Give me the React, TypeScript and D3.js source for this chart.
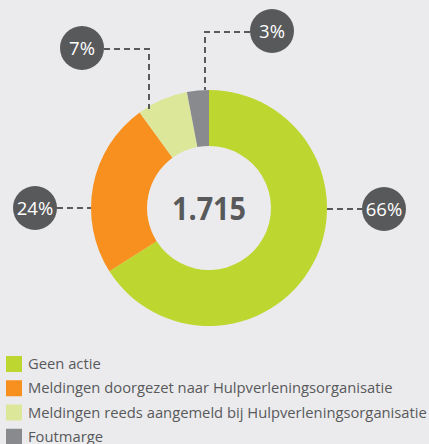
import React from "react";
import * as d3 from "d3";

const categories = [
  "Geen actie",
  "Meldingen doorgezet naar Hulpverleningsorganisatie",
  "Meldingen reeds aangemeld bij Hulpverleningsorganisatie",
  "Foutmarge",
];
const values = [66, 24, 7, 3];
const labels = ["66%", "24%", "7%", "3%"];
const colors = ["#bed730", "#f7901e", "#dde79a", "#898a8e"];
const total = "1.715";

const W = 429;
const H = 444;

export default function App() {
  const cx = 209;
  const cy = 208;
  const outerR = 118;
  const innerR = 62;
  const pie = d3.pie<number>().sort(null).value((d) => d);
  const arcs = pie(values);
  const arcGen = d3.arc<d3.PieArcDatum<number>>().innerRadius(innerR).outerRadius(outerR);

  const callouts = [
    { c: [384, 209], path: [[327, 209], [362, 209]] },
    { c: [35, 208], path: [[57, 208], [91, 208]] },
    { c: [82, 48], path: [[104, 49], [149, 49], [149, 109]] },
    { c: [272, 31], path: [[250, 32], [205, 32], [205, 90]] },
  ];
  const line = d3.line();
  const legendY = d3.scaleBand<number>().domain(d3.range(categories.length)).range([356, 453]);

  return (
    <svg width={W} height={H} style={{ position: "absolute", left: 0, top: 0, background: "#ebebed" }}>
      <rect width={W} height={H} fill="#ebebed" />
      <g transform={`translate(${cx},${cy})`}>
        {arcs.map((a, i) => (
          <path key={i} d={arcGen(a) || ""} fill={colors[i]} />
        ))}
      </g>
      <text
        x={cx}
        y={cy + 12}
        textAnchor="middle"
        fontFamily="'Open Sans', sans-serif"
        fontWeight={700}
        fontSize={33}
        fill="#58595b"
        textLength={74}
        lengthAdjust="spacingAndGlyphs"
      >
        {total}
      </text>
      {callouts.map((c, i) => (
        <g key={i}>
          <path
            d={line(c.path as [number, number][]) || ""}
            fill="none"
            stroke="#58595b"
            strokeWidth={2}
            strokeDasharray="6,4"
          />
          <circle cx={c.c[0]} cy={c.c[1]} r={22} fill="#58595b" />
          <text
            x={c.c[0]}
            y={c.c[1] + 6.5}
            textAnchor="middle"
            fontFamily="'Open Sans', sans-serif"
            fontWeight={400}
            fontSize={18.5}
            fill="#ffffff"
          >
            {labels[i]}
          </text>
        </g>
      ))}
      {categories.map((cat, i) => (
        <g key={cat} transform={`translate(0,${legendY(i)})`}>
          <rect x={6} y={0} width={16} height={16} fill={colors[i]} />
          <text x={28} y={13} fontFamily="'Open Sans', sans-serif" fontSize={14.75} fill="#58595b">
            {cat}
          </text>
        </g>
      ))}
    </svg>
  );
}
